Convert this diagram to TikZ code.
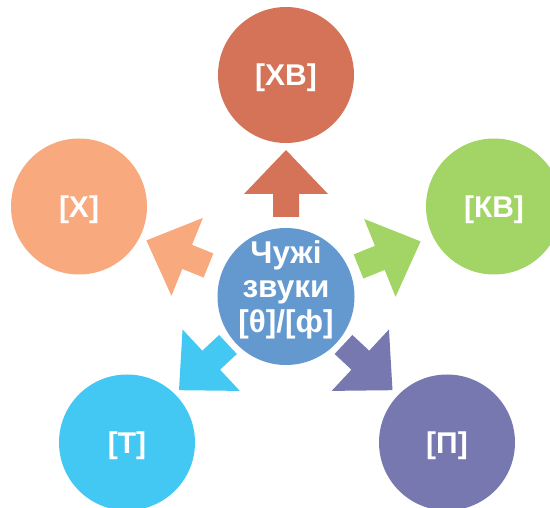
\documentclass[tikz,border=0pt]{standalone}
\usepackage{fontspec}
\setmainfont{Liberation Sans}
\definecolor{cTop}{RGB}{213,115,88}
\definecolor{cRight}{RGB}{163,212,102}
\definecolor{cLeft}{RGB}{248,169,125}
\definecolor{cBL}{RGB}{67,200,243}
\definecolor{cBR}{RGB}{119,120,176}
\definecolor{cCenter}{RGB}{99,153,206}
\begin{document}
\begin{tikzpicture}[x=1pt,y=-1pt,
  bubble/.style={circle, minimum size=136pt, inner sep=0pt, text=white,
    font=\fontsize{30}{35}\selectfont\bfseries, text height=22pt, text depth=0pt},
  centertext/.style={font=\fontsize{31.5}{34.5}\selectfont\bfseries, text=white,
    align=center, inner sep=0pt},
  blockarrow/.pic={\path[pic actions] (0,-13) -- (23,-13) -- (23,-42) -- (67,0)
    -- (23,42) -- (23,13) -- (0,13) -- cycle;}
]
\clip (0,0) rectangle (550,508);
% outer circles
\node[bubble, fill=cTop]   (xv) at (286,75) {[ХВ]};
\node[bubble, fill=cRight] (kv) at (494,206.5)  {[КВ]};
\node[bubble, fill=cLeft]  (x)  at (79,206.5)   {[Х]};
\node[bubble, fill=cBL]    (t)  at (127,442.5)  {[Т]};
\node[bubble, fill=cBR]    (p)  at (447,442.5)  {[П]};
% centre
\node[bubble, fill=cCenter, minimum size=137pt] (c) at (286,296.5) {};
\node[centertext] (ct) at (286,289.5) {Чужі\\звуки\\{[θ]/[ф]}};
% block arrows
\pic[fill=cTop, rotate=90]    at (286,217)     {blockarrow};
\pic[fill=cRight, rotate=22]  at (358.5,266.5) {blockarrow};
\pic[fill=cLeft, rotate=158]  at (208.5,265.5) {blockarrow};
\pic[fill=cBL, rotate=223]    at (228,344.5)   {blockarrow};
\pic[fill=cBR, rotate=-43]    at (343.5,344.5) {blockarrow};
\end{tikzpicture}
\end{document}
